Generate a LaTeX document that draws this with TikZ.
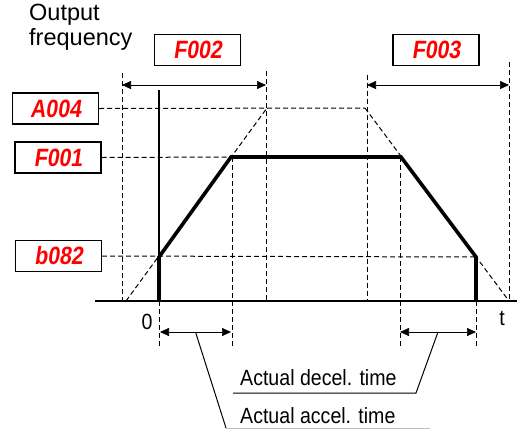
\documentclass[tikz,border=0pt]{standalone}
\usepackage{fontspec}
\setmainfont{Liberation Sans}
\newfontfamily\segfont[FakeSlant=0.15,FakeStretch=0.85]{Liberation Sans}
\newfontfamily\narrowfont[FakeStretch=0.89]{Liberation Sans}
\usetikzlibrary{arrows.meta,positioning,calc}
\definecolor{segred}{HTML}{FF0000}
\definecolor{ink}{HTML}{000000}
\tikzset{
  readout/.style={draw=ink,line width=1.4pt,minimum width=86pt,minimum height=31pt,
                  inner sep=0pt,text=segred,
                  font=\segfont\bfseries\fontsize{25}{25}\selectfont},
  guide/.style={draw=ink,line width=1pt,dash pattern=on 5pt off 3pt},
  speed/.style={draw=ink,line width=3.6pt,line join=miter},
  axisline/.style={draw=ink,line width=1.3pt},
  dimarr/.style={{Triangle[length=9pt,width=8pt]}-{Triangle[length=9pt,width=8pt]},
                 line width=0.7pt,draw=ink},
  lead/.style={draw=ink,line width=1pt},
  lbl/.style={inner sep=0pt,font=\narrowfont\fontsize{22}{22}\selectfont}
}
\begin{document}
\begin{tikzpicture}[x=1pt,y=-1pt]
  \useasboundingbox (0,0) rectangle (517,429);
  % parameter readouts
  \node[readout] (f002) at (197.5,50) {F002};
  \node[readout] (f003) at (436,50) {F003};
  \node[readout] (a004) at (55.5,108.5) {A004};
  \node[readout] (f001) at (58,157.5) {F001};
  \node[readout] (b082) at (58.5,256) {b082};
  \node[anchor=north west,align=left,inner sep=0pt,
        font=\fontsize{23.5}{24.5}\selectfont] (outfreq) at (29,4) {Output\\frequency};

  % corners of the speed profile
  \coordinate (p0) at (159,301);
  \coordinate (p1) at (159,257);
  \coordinate (p2) at (231,157);
  \coordinate (p3) at (401,157);
  \coordinate (p4) at (476,257);
  \coordinate (p5) at (476,301);
  \coordinate (pk1) at (267,108);
  \coordinate (pk2) at (365,108);
  \coordinate (ft1) at (126,301);
  \coordinate (ft2) at (509,301);

  % guide lines
  \foreach \x/\ya/\yb in {122/73/301,266/71/301,367/75/301,509/62/301,
                          159/301/347,232/157/347,400/157/347,476/301/347}
    \draw[guide] (\x,\ya) -- (\x,\yb);
  \draw[guide] (a004.east) -- (pk2);
  \draw[guide] (f001.east) -- (p2);
  \draw[guide] (b082.east) -- (p4);
  \draw[guide] (ft1) -- (pk1);
  \draw[guide] (pk2) -- (ft2);

  % axes
  \draw[axisline] (95,301) -- (517,301);
  \draw[axisline,line width=1.6pt] (159,90) -- (p0);
  \node[lbl] (zero) at (147,322) {0};
  \node[lbl] (tlab) at (502,318) {t};

  % profile
  \draw[speed] (p0) -- (p1) -- (p2) -- (p3) -- (p4) -- (p5);

  % time spans
  \coordinate (ta) at (122,85);
  \coordinate (tb) at (266,85);
  \coordinate (tc) at (367,85);
  \coordinate (td) at (509,85);
  \coordinate (ba) at (160,332);
  \coordinate (bb) at (231,332);
  \coordinate (bc) at (400,332);
  \coordinate (bd) at (476,332);
  \draw[dimarr] (ta) -- (tb);
  \draw[dimarr] (tc) -- (td);
  \draw[dimarr] (ba) -- (bb);
  \draw[dimarr] (bc) -- (bd);

  % leaders
  \node[lbl,anchor=base west] (decel) at (240,385) {Actual decel. time};
  \node[lbl,anchor=base west] (accel) at (240,423) {Actual accel. time};
  \coordinate (dk) at (416,393);
  \coordinate (de) at (233,393);
  \coordinate (ak) at (226,428);
  \coordinate (ae) at (430,428);
  \draw[lead] ($(bc)!0.5!(bd)$) -- (dk) -- (de);
  \draw[lead] ($(ba)!0.5!(bb)$) -- (ak);
  \draw[lead,draw=ink!25] (ak) -- (ae);
\end{tikzpicture}
\end{document}
